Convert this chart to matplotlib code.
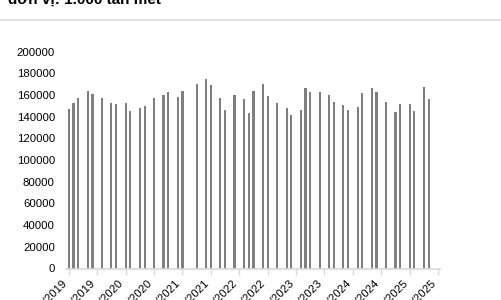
import matplotlib.pyplot as plt
from matplotlib.lines import Line2D

plt.rcParams['font.family'] = ['Liberation Sans Narrow', 'Liberation Sans', 'DejaVu Sans']

# Data (month index counted from 01/2019)
months = [0, 1, 2, 4, 5, 7, 9, 10, 12, 13, 15, 16, 18, 20, 21, 23, 24,
          27, 29, 30, 32, 33, 35, 37, 38, 39, 41, 42, 44, 46, 47, 49, 50,
          51, 53, 55, 56, 58, 59, 61, 62, 64, 65, 67, 69, 70, 72, 73, 75, 76]
values = [147000, 152500, 157000, 164000, 160500, 157500, 153000, 152000,
          153000, 145000, 148000, 150000, 157000, 160000, 162500, 158000,
          164000, 170000, 175000, 169000, 157500, 146500, 160000, 156000,
          143500, 163500, 170000, 159000, 152500, 148000, 141500, 146000,
          166000, 162500, 162500, 159500, 153500, 150500, 146000, 149000,
          162000, 166000, 162500, 153500, 144000, 152000, 152000, 145500,
          167000, 156000]
tick_months = list(range(0, 79, 6))
tick_labels = [f"{1 + m % 12:02d}/{2019 + m // 12}" for m in tick_months]
yticks = list(range(0, 200001, 20000))

fig = plt.figure(figsize=(5.01, 3.0), dpi=100)
ax = fig.add_axes([0.1317, 0.105, 0.7465, 0.7233])

ax.bar(months, values, width=0.45, color='#7f7f7f', edgecolor='none')

ax.set_xlim(-0.6, 78.4)
ax.set_ylim(0, 200000)
ax.set_yticks(yticks)
ax.set_yticklabels([str(v) for v in yticks], fontsize=8.2)
ax.set_xticks(tick_months)
ax.set_xticklabels(tick_labels, rotation=45, ha='right', fontsize=8.2)
ax.tick_params(axis='y', length=0, pad=8)
ax.tick_params(axis='x', length=4, color='#d9d9d9', width=1, pad=3)

for s in ['top', 'right', 'left']:
    ax.spines[s].set_visible(False)
ax.spines['bottom'].set_color('#d9d9d9')
ax.spines['bottom'].set_linewidth(1.2)

fig.text(8 / 501, 1 - 4 / 300, "đơn vị: 1.000 tấn mét", fontsize=11,
         fontweight='bold', va='baseline', ha='left')
fig.add_artist(Line2D([0, 1], [1 - 20 / 300, 1 - 20 / 300], color='#dcdcdc', lw=1.2))

fig.savefig('out.png', dpi=100)
